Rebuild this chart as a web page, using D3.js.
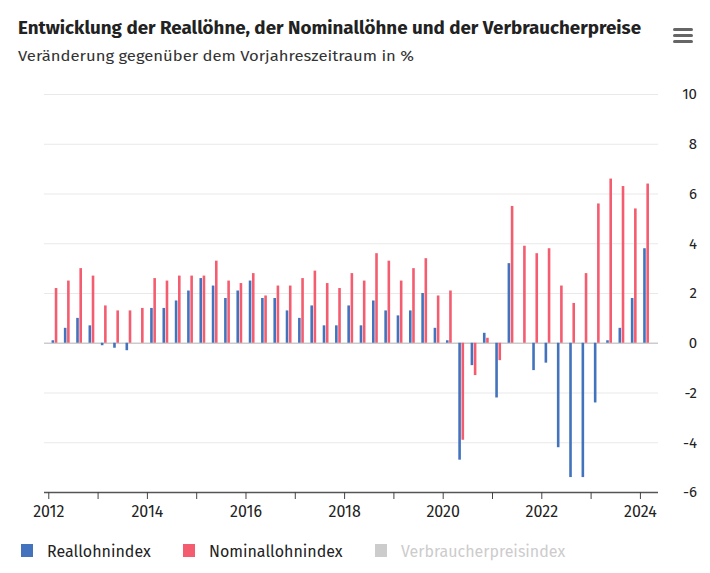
<!DOCTYPE html>
<html lang="de">
<head>
<meta charset="utf-8">
<script src="https://d3js.org/d3.v7.min.js"></script>
<style>
  body { margin: 0; background: #fff; }
  svg { display: block; }
</style>
</head>
<body>
<script>

// quarters 2012 Q1 .. 2024 Q1
const quarters = [
  "2012-Q1","2012-Q2","2012-Q3","2012-Q4",
  "2013-Q1","2013-Q2","2013-Q3","2013-Q4",
  "2014-Q1","2014-Q2","2014-Q3","2014-Q4",
  "2015-Q1","2015-Q2","2015-Q3","2015-Q4",
  "2016-Q1","2016-Q2","2016-Q3","2016-Q4",
  "2017-Q1","2017-Q2","2017-Q3","2017-Q4",
  "2018-Q1","2018-Q2","2018-Q3","2018-Q4",
  "2019-Q1","2019-Q2","2019-Q3","2019-Q4",
  "2020-Q1","2020-Q2","2020-Q3","2020-Q4",
  "2021-Q1","2021-Q2","2021-Q3","2021-Q4",
  "2022-Q1","2022-Q2","2022-Q3","2022-Q4",
  "2023-Q1","2023-Q2","2023-Q3","2023-Q4",
  "2024-Q1"
]

const reallohn = [
  0.1, 0.6, 1.0, 0.7,
  -0.1, -0.2, -0.3, 0.0,
  1.4, 1.4, 1.7, 2.1,
  2.6, 2.3, 1.8, 2.1,
  2.5, 1.8, 1.8, 1.3,
  1.0, 1.5, 0.7, 0.7,
  1.5, 0.7, 1.7, 1.3,
  1.1, 1.3, 2.0, 0.6,
  0.1, -4.7, -0.9, 0.4,
  -2.2, 3.2, 0.0, -1.1,
  -0.8, -4.2, -5.4, -5.4,
  -2.4, 0.1, 0.6, 1.8,
  3.8
]

const nominallohn = [
  2.2, 2.5, 3.0, 2.7,
  1.5, 1.3, 1.3, 1.4,
  2.6, 2.5, 2.7, 2.7,
  2.7, 3.3, 2.5, 2.4,
  2.8, 1.9, 2.3, 2.3,
  2.6, 2.9, 2.4, 2.2,
  2.8, 2.5, 3.6, 3.3,
  2.5, 3.0, 3.4, 1.9,
  2.1, -3.9, -1.3, 0.2,
  -0.7, 5.5, 3.9, 3.6,
  3.8, 2.3, 1.6, 2.8,
  5.6, 6.6, 6.3, 5.4,
  6.4
]

const yTicks = [-6, -4, -2, 0, 2, 4, 6, 8, 10]
const years = [2012, 2013, 2014, 2015, 2016, 2017, 2018, 2019, 2020, 2021, 2022, 2023, 2024]
const legendNames = ["Reallohnindex", "Nominallohnindex", "Verbraucherpreisindex"]

const width = 710, height = 573
const blue = "#4373bd", red = "#f45d6f", grey = "#cccccc"
const font = "'Fira Sans', 'Liberation Sans Narrow', Roboto, sans-serif"

const svg = d3.select("body").append("svg")
  .attr("width", width)
  .attr("height", height)

// scales
const x = d3.scaleLinear().domain([2011.913, 2024.367]).range([44, 658])
const y = d3.scaleLinear().domain([-6, 10]).range([492, 94])

// quarter -> time position (middle of quarter)
function qTime(q) {
  const parts = q.split("-Q")
  return +parts[0] + (+parts[1] - 1) / 4 + 0.125
}

// title
svg.append("text")
  .attr("x", 18).attr("y", 34)
  .attr("font-family", font)
  .attr("font-size", 18)
  .attr("font-weight", "bold")
  .attr("fill", "#222")
  .attr("textLength", 623)
  .attr("lengthAdjust", "spacingAndGlyphs")
  .text("Entwicklung der Reallöhne, der Nominallöhne und der Verbraucherpreise")

svg.append("text")
  .attr("x", 18).attr("y", 61)
  .attr("font-family", font)
  .attr("font-size", 15)
  .attr("fill", "#333")
  .attr("textLength", 396)
  .attr("lengthAdjust", "spacingAndGlyphs")
  .text("Veränderung gegenüber dem Vorjahreszeitraum in %")

// menu icon
svg.selectAll(".menu").data([0, 1, 2]).enter()
  .append("rect")
  .attr("x", 673).attr("y", d => 28 + d * 6)
  .attr("width", 20).attr("height", 3)
  .attr("rx", 1.5)
  .attr("fill", "#666")

// grid lines
svg.append("g")
  .attr("transform", "translate(658,0)")
  .call(d3.axisLeft(y).tickValues(yTicks).tickSize(614).tickFormat(""))
  .call(g => g.select(".domain").remove())
  .call(g => g.selectAll(".tick line")
    .attr("stroke", d => d == 0 ? "#cccccc" : "#e9e9e9")
    .attr("stroke-width", d => d == 0 ? 1.5 : 1))

// y labels on the right
svg.append("g")
  .attr("transform", "translate(697,0)")
  .call(d3.axisRight(y).tickValues(yTicks).tickSize(0).tickPadding(0).tickFormat(d3.format("d")))
  .call(g => g.select(".domain").remove())
  .call(g => g.selectAll("text")
    .attr("text-anchor", "end")
    .attr("font-family", font)
    .attr("font-size", 15)
    .attr("fill", "#222")
    .text(d => d < 0 ? "-" + Math.abs(d) : d))

// bars
const bw = 2.6
svg.append("g").selectAll("rect")
  .data(quarters)
  .enter().append("rect")
  .attr("x", d => x(qTime(d)) - bw - 0.3)
  .attr("width", bw)
  .attr("y", (d, i) => y(Math.max(0, reallohn[i])))
  .attr("height", (d, i) => Math.abs(y(reallohn[i]) - y(0)))
  .attr("fill", blue)

svg.append("g").selectAll("rect")
  .data(quarters)
  .enter().append("rect")
  .attr("x", d => x(qTime(d)) + 0.3)
  .attr("width", bw)
  .attr("y", (d, i) => y(Math.max(0, nominallohn[i])))
  .attr("height", (d, i) => Math.abs(y(nominallohn[i]) - y(0)))
  .attr("fill", red)

// x axis
svg.append("g")
  .attr("transform", "translate(0,492)")
  .call(d3.axisBottom(x).tickValues(years).tickSize(7).tickPadding(7)
    .tickFormat(d => d % 2 == 0 ? d : ""))
  .call(g => g.select(".domain").attr("d", "M44,0.5H658").attr("stroke", "#555").attr("stroke-width", 1.3))
  .call(g => g.selectAll(".tick line").attr("stroke", "#444"))
  .call(g => g.selectAll("text")
    .attr("font-family", font)
    .attr("font-size", 16)
    .attr("fill", "#222"))

// legend
const legendX = [21, 183, 375]
const legendColors = [blue, red, grey]
const leg = svg.append("g").selectAll("g")
  .data(legendNames)
  .enter().append("g")
  .attr("transform", (d, i) => "translate(" + legendX[i] + ",545)")

leg.append("rect")
  .attr("width", 12).attr("height", 13)
  .attr("y", -1)
  .attr("fill", (d, i) => legendColors[i])

leg.append("text")
  .attr("x", 26).attr("y", 11.5)
  .attr("font-family", font)
  .attr("font-size", 16)
  .attr("fill", (d, i) => i == 2 ? grey : "#222")
  .text(d => d)

</script>
</body>
</html>
